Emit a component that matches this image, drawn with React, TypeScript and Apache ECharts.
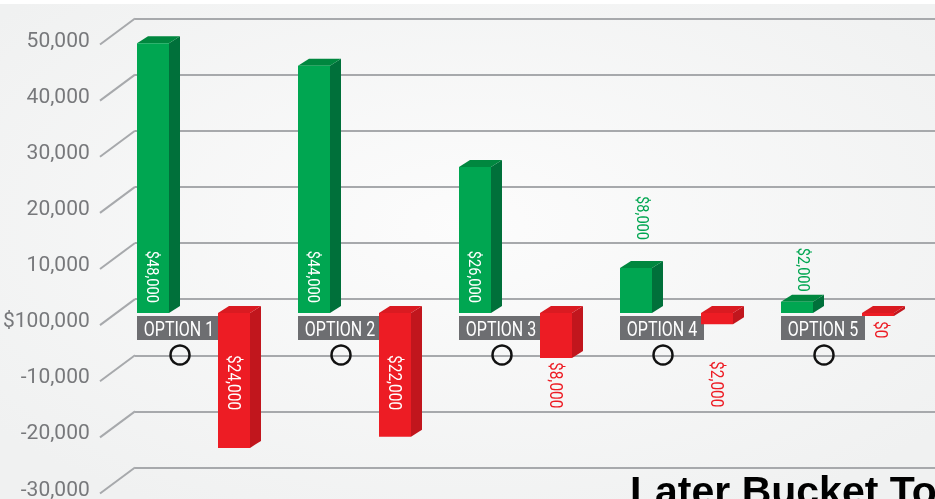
import React, { useEffect, useRef } from "react";
import * as echarts from "echarts";

const categories = ["OPTION 1", "OPTION 2", "OPTION 3", "OPTION 4", "OPTION 5"];
const greenValues = [48000, 44000, 26000, 8000, 2000];
const redValues = [-24000, -22000, -8000, -2000, 0];
const yTicks = [50000, 40000, 30000, 20000, 10000, 0, -10000, -20000, -30000];
const zeroTickLabel = "$100,000";
const bottomTitle = "Later Bucket Today";

const FONT = "Roboto, 'Noto Sans', sans-serif";
const GREEN = { front: "#00A651", side: "#00703A", top: "#00873F" };
const RED = { front: "#ED1C24", side: "#C1161D", top: "#DA1A21" };
const DX = 11;
const DY = -7;
const BAR_W = 32;
const OFFSET = 40.5;
const NARROW_X = 0.86;
const outsideGreenGap = [10, 10, 10, 28, 10];

const fmt = (v: number) => "$" + Math.abs(v).toLocaleString("en-US");

function barShapes(x0: number, top: number, bottom: number, c: any) {
  return [
    {
      type: "polygon",
      shape: { points: [[x0 + BAR_W, top], [x0 + BAR_W + DX, top + DY], [x0 + BAR_W + DX, bottom + DY], [x0 + BAR_W, bottom]] },
      style: { fill: c.side },
    },
    {
      type: "polygon",
      shape: { points: [[x0, top], [x0 + DX, top + DY], [x0 + BAR_W + DX, top + DY], [x0 + BAR_W, top]] },
      style: { fill: c.top },
    },
    { type: "rect", shape: { x: x0, y: top, width: BAR_W, height: bottom - top }, style: { fill: c.front } },
  ];
}

function vText(text: string, x: number, y: number, fill: string, align: string, size: number) {
  return {
    type: "text", x, y, rotation: -Math.PI / 2, scaleX: NARROW_X,
    style: { text, fill, fontSize: size, fontFamily: FONT, align, verticalAlign: "middle" },
  };
}

export default function App() {
  const ref = useRef<HTMLDivElement>(null);
  useEffect(() => {
    const chart = echarts.init(ref.current!, null, { renderer: "svg" });
    const option: any = {
      animation: false,
      backgroundColor: {
        type: "radial", x: 0.5, y: 0.45, r: 0.65,
        colorStops: [{ offset: 0, color: "#fcfcfc" }, { offset: 1, color: "#f0f1f1" }],
      },
      grid: [
        { left: 135, right: 0, top: 18.5, bottom: 31.5 },
        { left: 95, right: 0, top: 40, bottom: 10.5 },
        { left: 113, right: 17, top: 32, bottom: 17.4 },
      ],
      xAxis: [
        { type: "value", gridIndex: 0, min: 0, max: 1, show: false },
        { type: "value", gridIndex: 1, min: 0, max: 1, show: false },
        { type: "category", gridIndex: 2, data: categories, show: false },
      ],
      yAxis: [
        {
          type: "value", gridIndex: 0, min: -30000, max: 50000, interval: 10000,
          axisLine: { show: false }, axisTick: { show: false }, axisLabel: { show: false },
          splitLine: { lineStyle: { color: "#a7a9ac", width: 2 } },
        },
        {
          type: "value", gridIndex: 1, min: -30000, max: 50000, interval: 10000,
          axisLine: { show: false }, axisTick: { show: false }, splitLine: { show: false },
          axisLabel: {
            color: "#77787b", fontSize: 21, fontFamily: FONT, margin: 8,
            formatter: (v: number) => (v === 0 ? zeroTickLabel : v.toLocaleString("en-US")),
          },
        },
        { type: "value", gridIndex: 2, min: -30000, max: 50000, show: false },
      ],
      graphic: [
        { type: "rect", shape: { x: 0, y: 0, width: 935, height: 4 }, style: { fill: "#ffffff" }, z: 1 },
        {
          type: "text", left: 630, top: 470, z: 10,
          style: { text: bottomTitle, fontSize: 41, fontWeight: "bold", fontFamily: "'Liberation Sans', Arial, sans-serif", fill: "#000" },
        },
      ],
      series: [
        {
          type: "custom", xAxisIndex: 0, yAxisIndex: 0, z: 2,
          data: yTicks.map((v) => [0, v]),
          renderItem: (params: any, api: any) => {
            const p = api.coord([0, api.value(1)]);
            return {
              type: "line",
              shape: { x1: p[0], y1: p[1], x2: p[0] - 35, y2: p[1] + 26 },
              style: { stroke: "#a7a9ac", lineWidth: 2 },
            };
          },
        },
        {
          type: "custom", xAxisIndex: 2, yAxisIndex: 2, z: 3,
          data: categories.map((c, i) => [i, 0]),
          renderItem: (params: any, api: any) => {
            const i = params.dataIndex;
            const z = api.coord([api.value(0), 0]);
            const x0 = z[0] - OFFSET - BAR_W / 2;
            return {
              type: "group",
              children: [
                { type: "rect", shape: { x: x0, y: z[1] + 3, width: 84, height: 24 }, style: { fill: "#6d6e71" } },
                {
                  type: "text", x: x0 + 42, y: z[1] + 15.5, scaleX: 0.8,
                  style: { text: categories[i], fill: "#fff", fontSize: 20, fontFamily: FONT, align: "center", verticalAlign: "middle" },
                },
                {
                  type: "circle", shape: { cx: x0 + 43, cy: z[1] + 42, r: 9.5 },
                  style: { fill: "none", stroke: "#111", lineWidth: 2.5 },
                },
              ],
            };
          },
        },
        {
          type: "custom", xAxisIndex: 2, yAxisIndex: 2, z: 4,
          data: greenValues.map((v, i) => [i, v]),
          renderItem: (params: any, api: any) => {
            const i = params.dataIndex;
            const v = api.value(1);
            const c = api.coord([api.value(0), v]);
            const z = api.coord([api.value(0), 0]);
            const cx = z[0] - OFFSET;
            const x0 = cx - BAR_W / 2;
            const top = Math.min(c[1], z[1] - 3);
            const bottom = z[1];
            const inside = v >= 20000;
            const label = inside
              ? vText(fmt(v), cx, bottom - 10, "#fff", "right", 17)
              : vText(fmt(v), cx + 7, top - outsideGreenGap[i], "#00A651", "right", 17);
            return { type: "group", children: [...barShapes(x0, top, bottom, GREEN), label] };
          },
        },
        {
          type: "custom", xAxisIndex: 2, yAxisIndex: 2, z: 5,
          data: redValues.map((v, i) => [i, v]),
          renderItem: (params: any, api: any) => {
            const v = api.value(1);
            const c = api.coord([api.value(0), v]);
            const z = api.coord([api.value(0), 0]);
            const cx = z[0] + OFFSET;
            const x0 = cx - BAR_W / 2;
            const top = z[1];
            const bottom = Math.max(c[1], z[1] + 3);
            let label: any;
            if (v <= -20000) {
              label = vText(fmt(v), cx, top + 42, "#fff", "left", 18);
            } else if (v === 0) {
              label = vText(fmt(v), cx + 3, bottom + 5, "#ED1C24", "left", 18);
            } else {
              label = vText(fmt(v), cx, Math.max(bottom + 4, top + 48), "#ED1C24", "left", 18);
            }
            return { type: "group", children: [...barShapes(x0, top, bottom, RED), label] };
          },
        },
      ],
    };
    chart.setOption(option);
    return () => chart.dispose();
  }, []);
  return <div ref={ref} style={{ position: "fixed", left: 0, top: 0, width: 935, height: 499 }} />;
}
